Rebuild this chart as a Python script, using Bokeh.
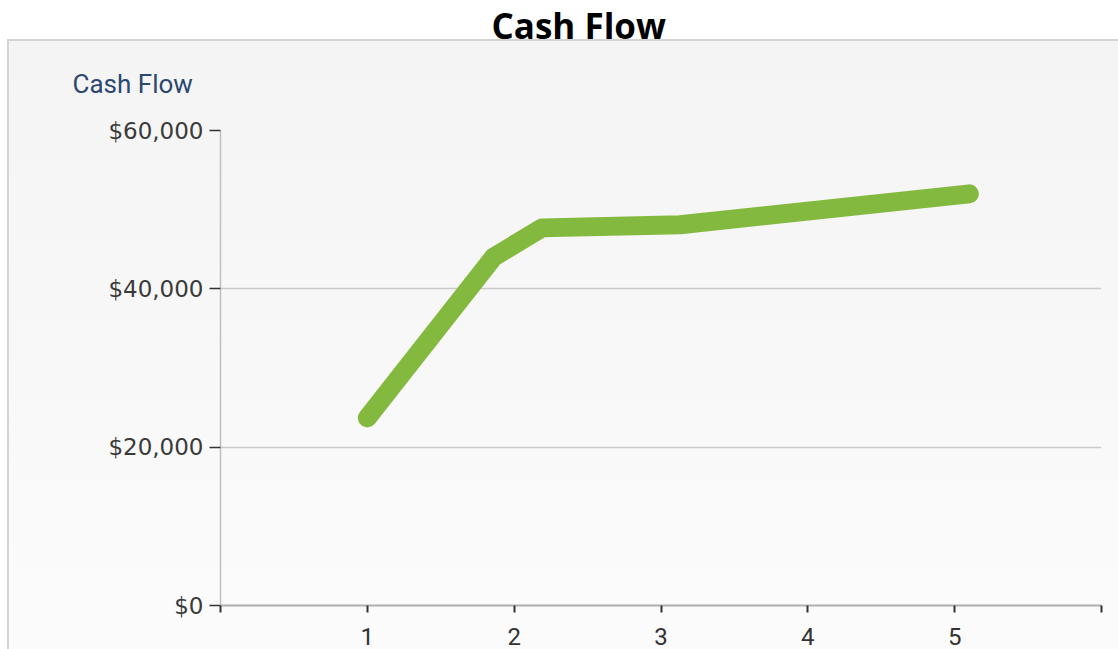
from bokeh.plotting import figure
from bokeh.models import Range1d, FixedTicker, NumeralTickFormatter, Title
from bokeh.embed import file_html
from bokeh.resources import INLINE

# ---- data ----
chart_title = "Cash Flow"
axis_title = "Cash Flow"
years = [1, 1.86, 2.19, 3.13, 5.1]
cash_flow = [23700, 44000, 47700, 48100, 52000]
x_ticks = [0, 1, 2, 3, 4, 5, 6]
x_tick_labels = {0: "", 1: "1", 2: "2", 3: "3", 4: "4", 5: "5", 6: ""}
y_ticks = [0, 20000, 40000, 60000]

panel_bg = (
    "linear-gradient(#d4d4d4, #d4d4d4) 7px 39px / 2px 100% no-repeat, "
    "linear-gradient(#d4d4d4, #d4d4d4) 7px 39px / 100% 2px no-repeat, "
    "linear-gradient(to bottom, #f4f4f4, #fcfcfc) 7px 39px / 100% 100% no-repeat, "
    "#ffffff"
)

p = figure(
    width=1118, height=649,
    x_range=Range1d(0, 6), y_range=Range1d(0, 60000),
    output_backend="svg", toolbar_location=None,
    min_border_left=220, min_border_right=17,
    min_border_top=130, min_border_bottom=44,
    border_fill_color=None, background_fill_color=None,
    outline_line_color=None,
    styles={"background": panel_bg},
)

p.xgrid.grid_line_color = None
p.ygrid.grid_line_color = "#cacaca"
p.ygrid.grid_line_width = 1.5

# x axis
xa = p.xaxis[0]
xa.ticker = FixedTicker(ticks=x_ticks)
xa.major_label_overrides = x_tick_labels
xa.axis_line_color = "#b0b0b0"
xa.axis_line_width = 2
xa.major_tick_line_color = "#333333"
xa.major_tick_line_width = 2
xa.major_tick_in = 0
xa.major_tick_out = 7
xa.minor_tick_line_color = None
xa.major_label_text_font = "Roboto"
xa.major_label_text_font_size = "24px"
xa.major_label_text_color = "#333333"
xa.major_label_standoff = 15

# y axis
ya = p.yaxis[0]
ya.ticker = FixedTicker(ticks=y_ticks)
ya.formatter = NumeralTickFormatter(format="$0,0")
ya.axis_line_color = "#c0c0c0"
ya.axis_line_width = 1.5
ya.major_tick_line_color = "#333333"
ya.major_tick_line_width = 1.5
ya.major_tick_in = 0
ya.major_tick_out = 11
ya.minor_tick_line_color = None
ya.major_label_text_font = "DejaVu Sans"
ya.major_label_text_font_size = "23px"
ya.major_label_text_color = "#3a3a3a"
ya.major_label_standoff = 6

# series
p.line(years, cash_flow, line_color="#84b93f", line_width=19,
       line_cap="round", line_join="round")

# axis title (closest to the frame) and chart title (outermost)
p.add_layout(Title(
    text=axis_title, align="left", offset=-148, standoff=64,
    text_font="Roboto", text_font_size="26px", text_font_style="normal",
    text_color="#2c4870",
), "above")
p.add_layout(Title(
    text=chart_title, align="left", offset=271, standoff=-29,
    text_font="Open Sans", text_font_size="35px", text_font_style="bold",
    text_color="#000000",
), "above")

open("out.html", "w").write(file_html(p, INLINE))
